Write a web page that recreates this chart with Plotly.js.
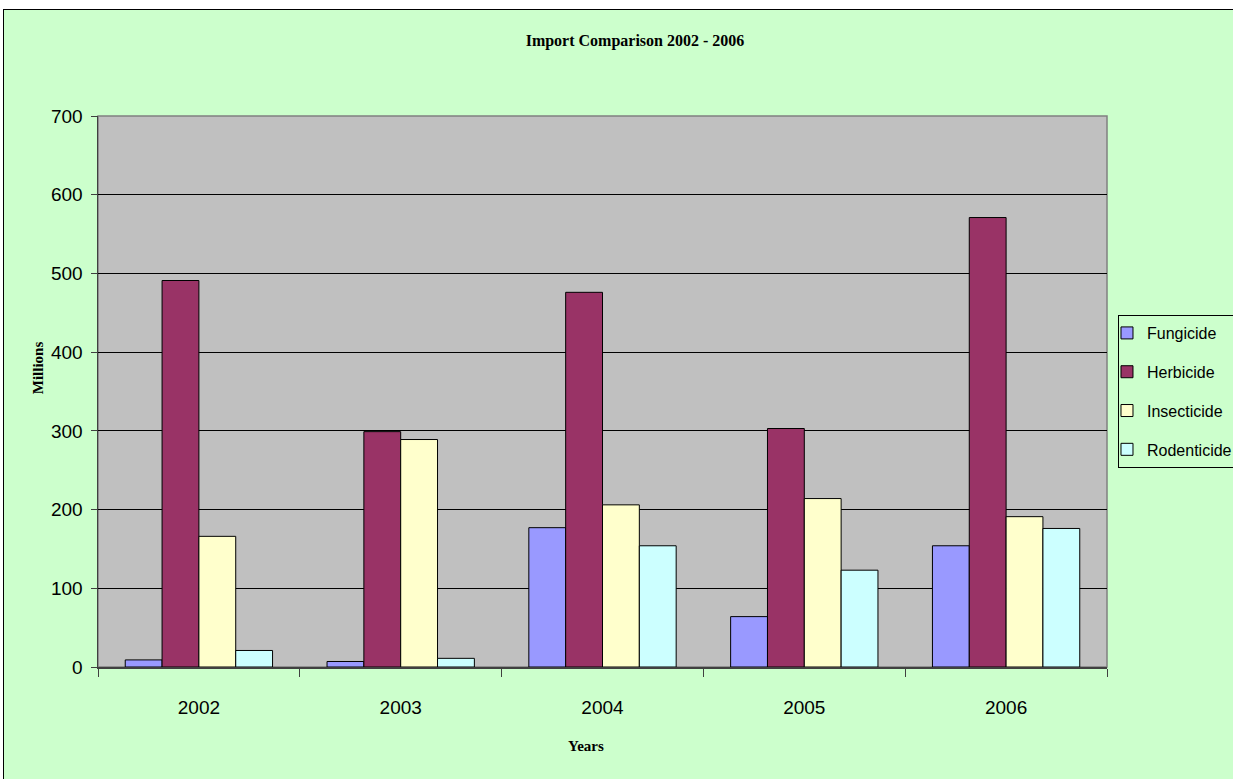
<!DOCTYPE html>
<html>
<head>
<meta charset="utf-8">
<script src="https://cdn.plot.ly/plotly-3.0.1.min.js"></script>
<style>
  html, body { margin: 0; padding: 0; background: #ffffff; overflow: hidden; }
  #frame { position: absolute; left: 3px; top: 9px; width: 1300px; height: 780px;
           border-left: 1px solid #000; border-top: 1px solid #000; background: #CCFFCC; }
  #chart { position: absolute; left: 0; top: 0; }
</style>
</head>
<body>
<div id="frame"><div id="chart"></div></div>
<script>
const years = ['2002', '2003', '2004', '2005', '2006'];
const fungicide   = [9, 7, 177, 64, 154];
const herbicide   = [491, 299, 476, 303, 571];
const insecticide = [166, 289, 206, 214, 191];
const rodenticide = [21, 11, 154, 123, 176];
const seriesNames = ['Fungicide', 'Herbicide', 'Insecticide', 'Rodenticide'];
const seriesColors = ['#9999FF', '#993366', '#FFFFCC', '#CCFFFF'];
const yTicks = [0, 100, 200, 300, 400, 500, 600, 700];

const seriesValues = [fungicide, herbicide, insecticide, rodenticide];
const traces = seriesValues.map((vals, i) => ({
  type: 'bar',
  name: seriesNames[i],
  x: years,
  y: vals,
  legendgroup: 'g' + i,
  marker: { color: seriesColors[i], line: { color: '#000000', width: 1 } }
}));

const W = 1290, H = 769;
const layout = {
  width: W, height: H,
  margin: { l: 94, r: 187, t: 106, b: 112 },
  paper_bgcolor: '#CCFFCC',
  plot_bgcolor: '#C0C0C0',
  barmode: 'group',
  bargap: 0.27,
  bargroupgap: 0,
  showlegend: true,
  font: { family: 'Liberation Sans, Arial, sans-serif', color: '#000000' },
  title: {
    text: '<b>Import Comparison 2002 - 2006</b>',
    font: { family: 'Liberation Serif, Times New Roman, serif', size: 16, color: '#000' },
    xref: 'container', yref: 'container',
    x: 631 / W, y: 1 - 30 / H, xanchor: 'center', yanchor: 'middle'
  },
  xaxis: {
    type: 'category',
    tickson: 'boundaries',
    ticks: 'outside', ticklen: 8, tickcolor: '#404040', tickwidth: 1,
    ticklabelstandoff: 23,
    showline: true, linecolor: '#404040', linewidth: 1.5,
    showgrid: false,
    tickfont: { size: 19, family: 'Liberation Sans, Arial, sans-serif' }
  },
  yaxis: {
    range: [0, 700],
    tickvals: yTicks,
    ticktext: yTicks.map(String),
    ticks: 'outside', ticklen: 6, tickcolor: '#404040', tickwidth: 1,
    ticklabelstandoff: 4,
    showline: true, linecolor: '#404040', linewidth: 1.5,
    showgrid: true, gridcolor: '#000000', gridwidth: 1,
    zeroline: false,
    tickfont: { size: 19, family: 'Liberation Sans, Arial, sans-serif' }
  },
  legend: {
    x: 1.0109, y: 0.6388, xanchor: 'left', yanchor: 'top',
    bgcolor: '#CCFFCC', bordercolor: '#000000', borderwidth: 1,
    tracegroupgap: 15,
    indentation: -12,
    font: { size: 16, family: 'Liberation Sans, Arial, sans-serif' },
    itemwidth: 30
  },
  shapes: [{
    type: 'rect', xref: 'paper', yref: 'paper', x0: 0, x1: 1, y0: 0, y1: 1,
    line: { color: '#808080', width: 1.5 }, layer: 'below'
  }],
  annotations: [
    {
      text: '<b>Millions</b>', textangle: -90, showarrow: false,
      xref: 'paper', yref: 'paper', x: -0.0595, y: 0.544,
      xanchor: 'center', yanchor: 'middle',
      font: { family: 'Liberation Serif, Times New Roman, serif', size: 15, color: '#000' }
    },
    {
      text: '<b>Years</b>', showarrow: false,
      xref: 'paper', yref: 'paper', x: 0.4836, y: -0.1434,
      xanchor: 'center', yanchor: 'middle',
      font: { family: 'Liberation Serif, Times New Roman, serif', size: 15, color: '#000' }
    }
  ]
};

Plotly.newPlot('chart', traces, layout, { displayModeBar: false, staticPlot: true });
</script>
</body>
</html>
